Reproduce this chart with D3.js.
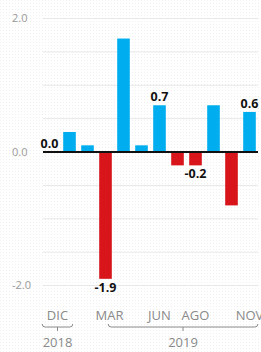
<!DOCTYPE html>
<html>
<head>
<meta charset="utf-8">
<script src="https://cdn.jsdelivr.net/npm/d3@7"></script>
<style>
  body { margin: 0; background: #fff; }
  svg { display: block; }
  .tickText { font-family: "Open Sans", sans-serif; fill: #8a8a8a; }
  .valueLabel { font-family: "Open Sans", sans-serif; font-weight: bold; fill: #111; font-size: 12.5px; }
</style>
</head>
<body>
<svg id="chart"></svg>
<script>
var months = ["DIC", "ENE", "FEB", "MAR", "ABR", "MAY", "JUN", "JUL", "AGO", "SEP", "OCT", "NOV"];
var values = [0.0, 0.3, 0.1, -1.9, 1.7, 0.1, 0.7, -0.2, -0.2, 0.7, -0.8, 0.6];
var labelledMonths = ["DIC", "MAR", "JUN", "AGO", "NOV"];
var yTicks = [-2, 0, 2];
var gridTicks = [-2, -1.5, -1, -0.5, 0, 0.5, 1, 1.5, 2];
var years = [
    {label: "2018", from: "DIC", to: "DIC"},
    {label: "2019", from: "MAR", to: "NOV"}
];

var width = 261, height = 352;
var blue = "#00aeef", red = "#d7151b";
var fmt = function (v) { return d3.format(".1f")(v).replace("\u2212", "-"); };

var svg = d3.select("#chart")
    .attr("width", width)
    .attr("height", height);

// dotted background
var defs = svg.append("defs");
defs.append("pattern")
    .attr("id", "dots")
    .attr("width", 3)
    .attr("height", 3)
    .attr("patternUnits", "userSpaceOnUse")
    .append("rect")
    .attr("width", 1)
    .attr("height", 1)
    .attr("fill", "#f0f0f0");
svg.append("rect").attr("width", width).attr("height", height).attr("fill", "#fff");
svg.append("rect").attr("width", width).attr("height", height).attr("fill", "url(#dots)");

var x = d3.scaleBand()
    .domain(months)
    .range([42.5, 258.5])
    .paddingInner(0.3)
    .paddingOuter(0.15);

var y = d3.scaleLinear()
    .domain([-2, 2])
    .range([285.5, 18.5]);

// grid
svg.append("g").selectAll("line")
    .data(gridTicks)
    .enter()
    .append("line")
    .attr("x1", 43)
    .attr("x2", 258)
    .attr("y1", function (d) { return y(d); })
    .attr("y2", function (d) { return y(d); })
    .attr("stroke", "#e8e8e8")
    .attr("stroke-width", 1);

// y labels
svg.append("g").selectAll("text")
    .data(yTicks)
    .enter()
    .append("text")
    .classed("tickText", true)
    .attr("x", 12)
    .attr("y", function (d) { return y(d); })
    .attr("dy", "0.35em")
    .style("font-size", "11px")
    .style("fill", "#9a9a9a")
    .text(fmt);

// bars
svg.append("g").selectAll("rect")
    .data(values)
    .enter()
    .append("rect")
    .attr("x", function (d, i) { return x(months[i]); })
    .attr("width", x.bandwidth())
    .attr("y", function (d) { return d >= 0 ? y(d) : y(0); })
    .attr("height", function (d) { return Math.abs(y(d) - y(0)); })
    .attr("fill", function (d) { return d >= 0 ? blue : red; });

// zero line
svg.append("line")
    .attr("x1", 43)
    .attr("x2", 258)
    .attr("y1", y(0))
    .attr("y2", y(0))
    .attr("stroke", "#111")
    .attr("stroke-width", 2);

// value labels
svg.append("g").selectAll("text")
    .data(labelledMonths)
    .enter()
    .append("text")
    .classed("valueLabel", true)
    .attr("text-anchor", "middle")
    .attr("x", function (m) {
        var cx = x(m) + x.bandwidth() / 2;
        return values[months.indexOf(m)] === 0 ? cx - 2 : cx;
    })
    .attr("y", function (m) {
        var v = values[months.indexOf(m)];
        return v >= 0 ? y(v) - 4 : y(v) + 13;
    })
    .text(function (m) { return fmt(values[months.indexOf(m)]); });

// month labels
svg.append("g").selectAll("text")
    .data(labelledMonths)
    .enter()
    .append("text")
    .classed("tickText", true)
    .attr("text-anchor", "middle")
    .attr("x", function (m) { return x(m) + x.bandwidth() / 2 + (m === "DIC" ? 6 : m === "MAR" ? 4 : 0); })
    .attr("y", 320)
    .style("font-size", "13px")
    .text(function (m) { return m; });

// year brackets
var bracket = svg.append("g");
years.forEach(function (yr) {
    var x0, x1;
    if (yr.from === yr.to) {
        x0 = x(yr.from) - 3;
        x1 = x(yr.to) + x.bandwidth() + 15;
    } else {
        x0 = x(yr.from) + 9;
        x1 = x(yr.to) + x.bandwidth() + 2;
    }
    var mid = (x0 + x1) / 2;
    bracket.append("path")
        .attr("d", "M" + x0 + ",324 Q" + x0 + ",327 " + (x0 + 3) + ",327 L" + (x1 - 3) + ",327 Q" + x1 + ",327 " + x1 + ",324 M" + mid + ",327 L" + mid + ",331")
        .attr("fill", "none")
        .attr("stroke", "#8a8a8a")
        .attr("stroke-width", 1);
    bracket.append("text")
        .classed("tickText", true)
        .attr("text-anchor", "middle")
        .attr("x", mid)
        .attr("y", 347)
        .style("font-size", "13px")
        .text(yr.label);
});
</script>
</body>
</html>
